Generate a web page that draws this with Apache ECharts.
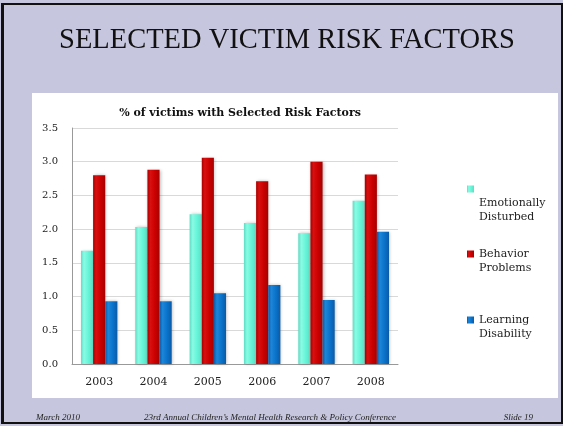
<!DOCTYPE html>
<html><head><meta charset="utf-8">
<script src="https://cdn.jsdelivr.net/npm/echarts@6/dist/echarts.min.js"></script>
<style>html,body{margin:0;padding:0;background:#c6c6de}#c{width:563px;height:426px}</style>
</head><body><div id="c"></div>
<script>
const years = ['2003','2004','2005','2006','2007','2008'];
const emotionallyDisturbed = [1.68, 2.03, 2.22, 2.09, 1.94, 2.42];
const behaviorProblems = [2.80, 2.88, 3.06, 2.71, 3.00, 2.81];
const learningDisability = [0.93, 0.93, 1.05, 1.17, 0.95, 1.96];
const seriesNames = ['Emotionally Disturbed', 'Behavior Problems', 'Learning Disability'];
const legendLabels = ['\n\n\nEmotionally\nDisturbed', '\nBehavior\nProblems', '\nLearning\nDisability'];
const yTicks = [0, 0.5, 1.0, 1.5, 2.0, 2.5, 3.0, 3.5];

function grad(edge, mid, light) {
  return new echarts.graphic.LinearGradient(0, 0, 1, 0, [
    {offset: 0, color: edge}, {offset: 0.25, color: light}, {offset: 0.6, color: mid}, {offset: 1, color: edge}
  ]);
}
const colors = [
  grad('#5fdcc4', '#66f5d8', '#8afbe4'),
  grad('#a80000', '#cc0000', '#d81010'),
  grad('#0a5aa8', '#0a74cc', '#1e86d8')
];
const solid = ['#66f0d4', '#c80000', '#0b6fc4'];
const serif = '"DejaVu Serif", Georgia, serif';
const times = '"Liberation Serif", "Times New Roman", serif';

const chart = echarts.init(document.getElementById('c'), null, {renderer: 'canvas'});
const dataArr = [emotionallyDisturbed, behaviorProblems, learningDisability];
const legendTops = [154, 233, 299];

chart.setOption({
  animation: false,
  backgroundColor: '#c6c6de',
  graphic: [
    {type: 'rect', shape: {x: 2, y: 4, width: 560, height: 419}, style: {fill: 'none', stroke: '#111', lineWidth: 2}, z: -10},
    {type: 'rect', shape: {x: 1, y: 4, width: 3, height: 419}, style: {fill: '#111'}, z: -10},
    {type: 'rect', shape: {x: 32, y: 93, width: 526, height: 305}, style: {fill: '#ffffff'}, z: -10},
    {type: 'text', x: 287, y: 41, style: {text: 'SELECTED VICTIM RISK FACTORS', font: '28.5px ' + times, fill: '#111', align: 'center', verticalAlign: 'middle'}},
    {type: 'text', x: 36, y: 418, style: {text: 'March 2010', font: 'italic 9px ' + times, fill: '#222', verticalAlign: 'middle'}},
    {type: 'text', x: 270, y: 418, style: {text: '23rd Annual Children\u2019s Mental Health Research & Policy Conference', font: 'italic 9px ' + times, fill: '#222', align: 'center', verticalAlign: 'middle'}},
    {type: 'text', x: 533, y: 418, style: {text: 'Slide 19', font: 'italic 9px ' + times, fill: '#222', align: 'right', verticalAlign: 'middle'}}
  ],
  title: {
    text: '% of victims with Selected Risk Factors',
    left: 235, top: 103, textAlign: 'center',
    textStyle: {fontFamily: serif, fontWeight: 'bold', fontSize: 11, color: '#111'}
  },
  legend: seriesNames.map((n, i) => ({
    data: [n], left: 467, top: legendTops[i], orient: 'vertical', padding: 0,
    itemWidth: 7, itemHeight: 7, icon: 'rect',
    formatter: () => legendLabels[i],
    textStyle: {fontFamily: serif, fontSize: 11, color: '#222', lineHeight: 14},
    itemGap: 3
  })),
  grid: {left: 72, right: 165, top: 128, bottom: 62},
  xAxis: {
    type: 'category', data: years,
    axisLine: {lineStyle: {color: '#999'}}, axisTick: {show: false},
    axisLabel: {fontFamily: serif, fontSize: 11, color: '#222', margin: 13}
  },
  yAxis: {
    type: 'value', min: 0, max: 3.5, interval: 0.5,
    axisLine: {show: true, lineStyle: {color: '#999'}}, axisTick: {show: false},
    splitLine: {lineStyle: {color: '#d9d9d9'}},
    axisLabel: {fontFamily: serif, fontSize: 10, color: '#222', margin: 14, formatter: v => v.toFixed(1)}
  },
  series: seriesNames.map((n, i) => ({
    name: n, type: 'bar', data: dataArr[i],
    barGap: '0%', barCategoryGap: '33%',
    itemStyle: {color: colors[i], shadowColor: 'rgba(0,0,0,0.25)', shadowBlur: 3, shadowOffsetX: 1},
    emphasis: {disabled: true}
  })),
  color: solid
});
</script></body></html>
